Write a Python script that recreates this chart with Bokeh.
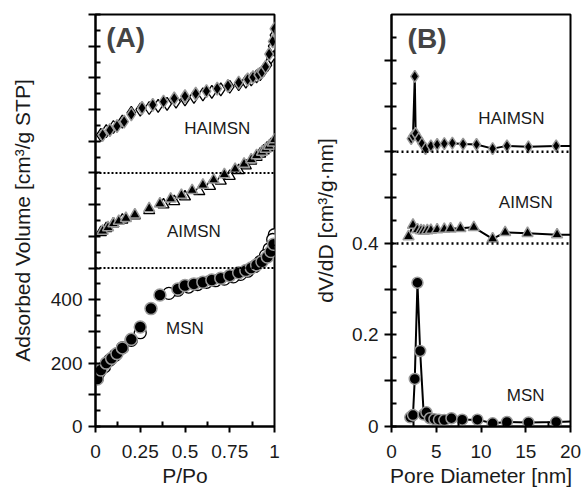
from bokeh.plotting import figure
from bokeh.layouts import row
from bokeh.models import FixedTicker, Span, Label
from bokeh.embed import file_html
from bokeh.resources import INLINE

# ---------------- Panel A: N2 isotherms ----------------
msn_ads_x = [0.01, 0.03, 0.06, 0.09, 0.12, 0.15, 0.2, 0.25, 0.31, 0.36, 0.46, 0.5, 0.55, 0.6, 0.65,
             0.7, 0.75, 0.8, 0.84, 0.87, 0.9, 0.93, 0.96, 0.98, 0.995]
msn_ads_y = [150, 178, 200, 215, 230, 248, 275, 314, 372, 415, 434, 445, 450, 455, 462,
             468, 476, 485, 492, 500, 510, 520, 535, 552, 575]
msn_des_x = [0.999, 0.99, 0.97, 0.95, 0.92, 0.89, 0.85, 0.81, 0.77, 0.72, 0.67, 0.62, 0.57, 0.52,
             0.46, 0.41, 0.25, 0.2, 0.15, 0.11, 0.08, 0.05, 0.02, 0.01]
msn_des_y = [605, 590, 560, 540, 520, 505, 490, 480, 472, 465, 460, 455, 448, 440,
             430, 420, 296, 272, 248, 225, 210, 188, 170, 152]

aimsn_ads_x = [0.04, 0.07, 0.1, 0.13, 0.17, 0.22, 0.3, 0.36, 0.42, 0.48, 0.54, 0.6, 0.66, 0.72,
               0.78, 0.83, 0.87, 0.9, 0.93, 0.95, 0.97, 0.99, 1.0]
aimsn_ads_y = [617, 628, 640, 648, 657, 668, 688, 703, 718, 730, 745, 762, 778, 795,
               812, 828, 842, 855, 866, 875, 885, 895, 905]
aimsn_des_x = [1.0, 0.98, 0.96, 0.94, 0.92, 0.9, 0.87, 0.84, 0.8, 0.75, 0.7, 0.64, 0.58, 0.5,
               0.44, 0.38, 0.3, 0.22, 0.15, 0.1, 0.06, 0.03]
aimsn_des_y = [900, 890, 880, 870, 860, 850, 838, 823, 808, 790, 775, 758, 742, 725,
               710, 700, 682, 665, 652, 640, 625, 612]

haimsn_ads_x = [0.04, 0.08, 0.12, 0.16, 0.2, 0.26, 0.32, 0.38, 0.44, 0.5, 0.56, 0.62, 0.68, 0.74,
                0.8, 0.85, 0.88, 0.91, 0.93, 0.95, 0.97, 0.99, 1.0]
haimsn_ads_y = [920, 935, 948, 962, 985, 1005, 1015, 1025, 1035, 1042, 1050, 1058, 1066, 1075,
                1085, 1095, 1102, 1110, 1118, 1135, 1175, 1215, 1255]
haimsn_des_x = [1.0, 0.99, 0.98, 0.96, 0.94, 0.92, 0.9, 0.87, 0.84, 0.8, 0.75, 0.7, 0.65, 0.6,
                0.55, 0.5, 0.45, 0.4, 0.35, 0.3, 0.25, 0.2, 0.15, 0.1, 0.06, 0.03]
haimsn_des_y = [1235, 1200, 1165, 1140, 1125, 1112, 1105, 1095, 1088, 1080, 1072, 1064, 1056, 1048,
                1040, 1032, 1025, 1018, 1012, 1005, 1000, 990, 962, 945, 932, 920]

a_baselines = [500, 800]
a_xticks = [0, 0.25, 0.5, 0.75, 1]
a_xtick_labels = ["0", "0.25", "0.5", "0.75", "1"]
a_yticks = list(range(0, 1301, 100))
a_ytick_labels = {0: "0", 200: "200", 400: "400"}

# ---------------- Panel B: pore size distributions ----------------
msn_d = [2.1, 2.4, 2.6, 2.9, 3.2, 3.6, 3.9, 4.3, 4.8, 5.3, 5.9, 6.7, 7.9, 9.6, 11.3, 12.9, 15.3, 18.4, 21.5]
msn_v = [0.02, 0.025, 0.104, 0.314, 0.165, 0.026, 0.031, 0.018, 0.016, 0.015, 0.014, 0.018, 0.015,
         0.015, 0.007, 0.01, 0.009, 0.01, 0.012]
aimsn_d = [1.9, 2.4, 2.9, 3.3, 3.6, 4.0, 4.4, 5.1, 5.9, 6.6, 7.7, 9.2, 11.3, 12.7, 15.2, 18.5, 21.5]
aimsn_v = [0.415, 0.44, 0.43, 0.428, 0.427, 0.428, 0.429, 0.43, 0.431, 0.432, 0.433, 0.435, 0.41,
           0.424, 0.422, 0.419, 0.419]
haimsn_d = [2.2, 2.4, 2.6, 2.7, 3.05, 3.4, 3.8, 4.4, 5.1, 5.9, 6.8, 8.0, 9.5, 11.3, 12.9, 15.3, 18.4, 21.5]
haimsn_v = [0.629, 0.635, 0.765, 0.64, 0.629, 0.618, 0.607, 0.613, 0.616, 0.618, 0.619, 0.617, 0.616,
            0.607, 0.613, 0.611, 0.613, 0.613]

b_baselines = [0.4, 0.6]
b_xticks = [0, 5, 10, 15, 20]
b_yticks = [round(0.1 * i, 1) for i in range(0, 9)]
b_ytick_labels = {0: "0", 0.2: "0.2", 0.4: "0.4"}

FONT = "Liberation Sans"
TXT = "#1a1a1a"


def style_axes(p):
    p.xgrid.visible = False
    p.ygrid.visible = False
    p.outline_line_color = "black"
    p.outline_line_width = 2
    p.background_fill_color = "white"
    p.border_fill_color = "white"
    for ax in (p.xaxis[0], p.yaxis[0]):
        ax.axis_line_width = 2
        ax.axis_line_color = "black"
        ax.major_tick_line_width = 2
        ax.minor_tick_line_width = 2
        ax.major_tick_line_color = "black"
        ax.minor_tick_line_color = "black"
        ax.major_label_text_font = FONT
        ax.major_label_text_font_size = "19px"
        ax.major_label_text_color = TXT
        ax.axis_label_text_font = FONT
        ax.axis_label_text_font_size = "21px"
        ax.axis_label_text_font_style = "normal"
        ax.axis_label_text_color = TXT
    p.yaxis[0].major_tick_out = 7
    p.yaxis[0].major_tick_in = 5
    p.yaxis[0].minor_tick_out = 0
    p.yaxis[0].minor_tick_in = 5
    p.yaxis[0].major_label_standoff = 6
    p.xaxis[0].major_tick_out = 6
    p.xaxis[0].major_tick_in = 0
    p.xaxis[0].minor_tick_out = 0
    p.xaxis[0].minor_tick_in = 5
    p.xaxis[0].major_label_standoff = 12
    p.xaxis[0].axis_label_standoff = 3


# ---- Figure A ----
pA = figure(width=290, height=489, x_range=(0, 1), y_range=(0, 1300),
            output_backend="svg", toolbar_location=None,
            min_border_left=95, min_border_right=16, min_border_top=12, min_border_bottom=63)
style_axes(pA)
pA.xaxis[0].ticker = FixedTicker(ticks=a_xticks, minor_ticks=[0.125, 0.375, 0.625, 0.875])
pA.xaxis[0].major_label_overrides = {t: l for t, l in zip(a_xticks, a_xtick_labels)}
pA.yaxis[0].ticker = FixedTicker(ticks=a_yticks, minor_ticks=list(range(50, 1300, 100)))
pA.yaxis[0].major_label_overrides = {t: a_ytick_labels.get(t, "") for t in a_yticks}
pA.yaxis[0].axis_label_standoff = 14
pA.xaxis[0].axis_label = "P/Po"
pA.yaxis[0].axis_label = "Adsorbed Volume [cm³/g STP]"

for b in a_baselines:
    pA.add_layout(Span(location=b, dimension="width", line_color="black",
                       line_width=2, line_dash="2 2"))

open_kw = dict(fill_color="white", line_color="black", line_width=1.3)
fill_kw = dict(fill_color="black", line_color="#9a9a9a", line_width=1.5)

pA.scatter(msn_des_x, msn_des_y, marker="circle", size=12, **open_kw)
pA.scatter(msn_ads_x, msn_ads_y, marker="circle", size=12, **fill_kw)
pA.scatter(aimsn_des_x, aimsn_des_y, marker="triangle", size=11, **open_kw)
pA.scatter(aimsn_ads_x, aimsn_ads_y, marker="triangle", size=11, **fill_kw)
pA.scatter(haimsn_des_x, haimsn_des_y, marker="diamond", size=13, **open_kw)
pA.scatter(haimsn_ads_x, haimsn_ads_y, marker="diamond", size=13, **fill_kw)

for x, y, t in [(0.68, 940, "HAIMSN"), (0.55, 616, "AIMSN"), (0.5, 308, "MSN")]:
    pA.add_layout(Label(x=x, y=y, text=t, text_align="center", text_baseline="middle",
                        text_font=FONT, text_font_size="17px", text_color=TXT))
pA.add_layout(Label(x=0.06, y=1228, text="(A)", text_align="left", text_baseline="middle",
                    text_font=FONT, text_font_size="28px", text_font_style="bold"))

# ---- Figure B ----
pB = figure(width=291, height=489, x_range=(0, 20), y_range=(0, 0.9),
            output_backend="svg", toolbar_location=None,
            min_border_left=101, min_border_right=11, min_border_top=14, min_border_bottom=63)
style_axes(pB)
pB.xaxis[0].ticker = FixedTicker(ticks=b_xticks, minor_ticks=[2.5, 7.5, 12.5, 17.5])
pB.yaxis[0].ticker = FixedTicker(ticks=b_yticks,
                                 minor_ticks=[round(0.05 + 0.1 * i, 2) for i in range(0, 9)])
pB.yaxis[0].major_label_overrides = {t: b_ytick_labels.get(t, "") for t in b_yticks}
pB.yaxis[0].axis_label_standoff = 12
pB.xaxis[0].axis_label = "Pore Diameter [nm]"
pB.yaxis[0].axis_label = "dV/dD [cm³/g·nm]"

for b in b_baselines:
    pB.add_layout(Span(location=b, dimension="width", line_color="black",
                       line_width=2.5, line_dash="2 3"))

for xs, ys, m, s in [(msn_d, msn_v, "circle", 11), (aimsn_d, aimsn_v, "triangle", 11),
                     (haimsn_d, haimsn_v, "diamond", 12)]:
    pB.line(xs, ys, line_color="black", line_width=2)
    pB.scatter(xs, ys, marker=m, size=s, **fill_kw)

for x, y, t in [(13.4, 0.672, "HAIMSN"), (15, 0.49, "AIMSN"), (15, 0.067, "MSN")]:
    pB.add_layout(Label(x=x, y=y, text=t, text_align="center", text_baseline="middle",
                        text_font=FONT, text_font_size="17px", text_color=TXT))
pB.add_layout(Label(x=1.8, y=0.848, text="(B)", text_align="left", text_baseline="middle",
                    text_font=FONT, text_font_size="28px", text_font_style="bold"))

layout = row(pA, pB)
open("out.html", "w").write(file_html(layout, INLINE))
